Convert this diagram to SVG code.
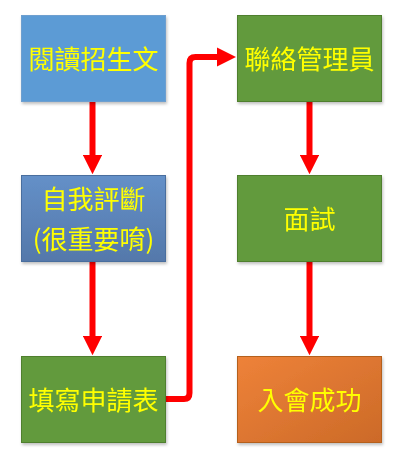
<svg xmlns="http://www.w3.org/2000/svg" width="405" height="469" viewBox="0 0 405 469">
<style>
.box{stroke-width:1}
.t{font-family:"Noto Sans CJK TC","Noto Sans CJK SC",sans-serif;font-size:26px;fill:#FFFF00;text-anchor:middle;dominant-baseline:central}
.c{fill:none;stroke:#FF0000;stroke-width:6}
</style>
<defs>
<linearGradient id="gBlue2" x1="0" y1="0" x2="0" y2="1"><stop offset="0" stop-color="#6490C8"/><stop offset="1" stop-color="#5478AA"/></linearGradient>
<linearGradient id="gOrange" x1="0" y1="0" x2="1" y2="1"><stop offset="0" stop-color="#EE8239"/><stop offset="1" stop-color="#CC6A28"/></linearGradient>
<marker id="ah" markerWidth="3.2" markerHeight="3.2" refX="0" refY="1.6" orient="auto" markerUnits="strokeWidth"><path d="M0,0 L3.2,1.6 L0,3.2 Z" fill="#FF0000"/></marker>
<filter id="sh" x="-5%" y="-5%" width="115%" height="115%"><feDropShadow dx="1" dy="2" stdDeviation="1.5" flood-color="#000" flood-opacity="0.25"/></filter>
</defs>
<g id="connectors">
<path class="c" d="M92.5,101 V155" marker-end="url(#ah)"/>
<path class="c" d="M92.5,261 V336" marker-end="url(#ah)"/>
<path class="c" d="M166,399 H184 Q189.5,399 189.5,393 V63 Q189.5,57 195.5,57 H217" marker-end="url(#ah)"/>
<path class="c" d="M309.5,102 V155" marker-end="url(#ah)"/>
<path class="c" d="M309.5,261 V336" marker-end="url(#ah)"/>
</g>
<g id="n1" filter="url(#sh)"><rect class="box" x="21.5" y="15.5" width="144" height="86" fill="#5B9BD5" stroke="#6E9FCF"/><text class="t" x="93.5" y="57">閱讀招生文</text></g>
<g id="n2" filter="url(#sh)"><rect class="box" x="21.5" y="175.5" width="144" height="86" fill="url(#gBlue2)" stroke="#4A6E9E"/><text class="t" x="93.5" y="197">自我評斷</text><text class="t" x="93.5" y="237">(很重要唷)</text></g>
<g id="n3" filter="url(#sh)"><rect class="box" x="21.5" y="356.5" width="144" height="86" fill="#629A3C" stroke="#4F7F2E"/><text class="t" x="93.5" y="398">填寫申請表</text></g>
<g id="n4" filter="url(#sh)"><rect class="box" x="237.5" y="15.5" width="144" height="86" fill="#629A3C" stroke="#4F7F2E"/><text class="t" x="309.5" y="57">聯絡管理員</text></g>
<g id="n5" filter="url(#sh)"><rect class="box" x="237.5" y="175.5" width="144" height="86" fill="#629A3C" stroke="#4F7F2E"/><text class="t" x="309.5" y="217">面試</text></g>
<g id="n6" filter="url(#sh)"><rect class="box" x="237.5" y="356.5" width="144" height="86" fill="url(#gOrange)" stroke="#B5611F"/><text class="t" x="309.5" y="398">入會成功</text></g>
</svg>
